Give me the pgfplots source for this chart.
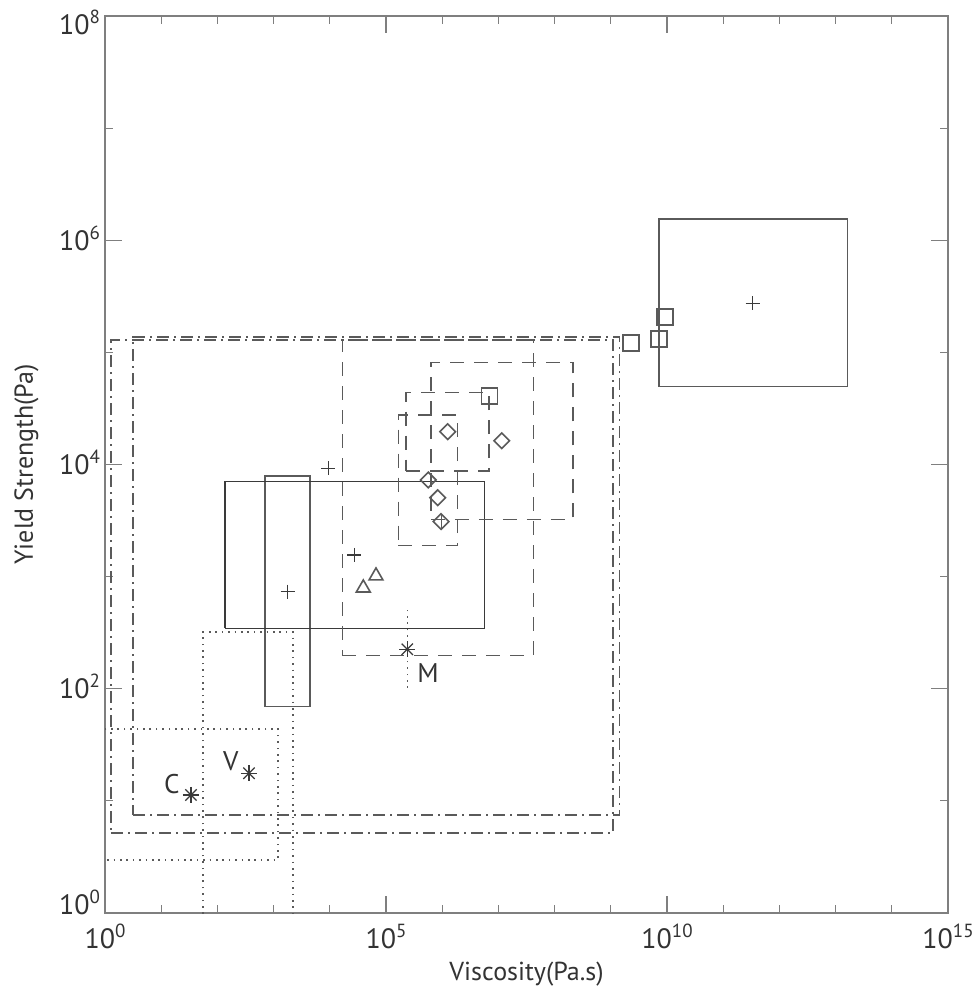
\documentclass[border=0pt]{standalone}
\usepackage{fontspec}
\setmainfont{PT Sans}
\usepackage{pgfplots}
\pgfplotsset{compat=1.18}
\definecolor{ln}{HTML}{5A5A5A}
\definecolor{lnd}{HTML}{3A3A3A}
\definecolor{axc}{HTML}{7F7F7F}
\definecolor{tx}{HTML}{333333}
\newcommand{\sq}[1]{10\raisebox{5.5pt}{\fontsize{9.5}{10}\selectfont #1}}
\begin{document}
\begin{tikzpicture}
\begin{axis}[
 xmode=log, ymode=log,
 scale only axis, width=421.5pt, height=448.5pt,
 xmin=1, xmax=1e15, ymin=1, ymax=1e8,
 xtick={1,1e5,1e10,1e15},
 xticklabels={\sq{0},\sq{5},\sq{10},\sq{15}},
 minor xtick={1e1,1e2,1e3,1e4,1e6,1e7,1e8,1e9,1e11,1e12,1e13,1e14},
 ytick={1,1e2,1e4,1e6,1e8},
 yticklabels={\raisebox{4.2pt}{\sq{0}},\sq{2},\sq{4},\sq{6},\raisebox{-4.3pt}{\sq{8}}},
 minor ytick={1e1,1e3,1e5,1e7},
 tick align=inside, tick pos=both,
 major tick length=8.5pt, minor tick length=4pt,
 tick style={axc, line width=0.6pt},
 axis line style={axc, line width=0.8pt},
 ticklabel style={font=\fontsize{14}{16}\selectfont, text=tx},
 xticklabel style={anchor=north, yshift=-2.2pt},
 yticklabel style={anchor=base east, yshift=-5pt, xshift=1pt},
 xlabel={Viscosity(Pa.s)}, ylabel={Yield Strength(Pa)},
 every axis x label/.style={at={(axis description cs:0.5,-0.068)}, anchor=center, font=\fontsize{13}{15}\selectfont, text=tx},
 every axis y label/.style={at={(axis description cs:-0.093,0.5)}, anchor=center, rotate=90, font=\fontsize{13}{15}\selectfont, text=tx},
 line join=miter,
]
\coordinate (SW) at (rel axis cs:0,0);
\coordinate (NE) at (rel axis cs:1,1);
% dash-dot rectangles
\addplot[ln, line width=0.6pt, dash pattern=on 6pt off 2.5pt on 1pt off 2.5pt] coordinates {(1.28,5.18) (1.096e9,5.18) (1.096e9,1.288e5) (1.28,1.288e5) (1.28,5.18)};
\addplot[ln, line width=0.6pt, dash pattern=on 6pt off 2.5pt on 1pt off 2.5pt] coordinates {(3.15,7.48) (1.445e9,7.48) (1.445e9,1.371e5) (3.15,1.371e5) (3.15,7.48)};
% dotted rectangles
\addplot[ln, line width=0.7pt, dash pattern=on 0.8pt off 2.4pt] coordinates {(0.5,2.97) (1202,2.97) (1202,43.75) (0.5,43.75)};
\addplot[ln, line width=0.7pt, dash pattern=on 0.8pt off 2.4pt] coordinates {(55.5,0.3) (55.5,320.6) (2213,320.6) (2213,0.3)};
% solid rectangles
\addplot[ln, line width=0.7pt] coordinates {(703,69.2) (4446,69.2) (4446,7907) (703,7907) (703,69.2)};
\addplot[lnd, line width=0.7pt] coordinates {(136.5,345) (5.61e6,345) (5.61e6,7031) (136.5,7031) (136.5,345)};
\addplot[ln, line width=0.7pt] coordinates {(7.21e9,49430) (1.614e13,49430) (1.614e13,1.549e6) (7.21e9,1.549e6) (7.21e9,49430)};
% dashed rectangles
\addplot[ln, line width=0.6pt, dash pattern=on 7pt off 5pt] coordinates {(16672,197.2) (4.169e7,197.2) (4.169e7,1.288e5) (16672,1.288e5) (16672,197.2)};
\addplot[ln, line width=0.6pt, dash pattern=on 7pt off 5pt] coordinates {(6.31e5,3243) (2.123e8,3243) (2.123e8,81470) (6.31e5,81470) (6.31e5,3243)};
\addplot[ln, line width=0.6pt, dash pattern=on 7pt off 5pt] coordinates {(2.270e5,8750) (6.808e6,8750) (6.808e6,44060) (2.270e5,44060) (2.270e5,8750)};
\addplot[ln, line width=0.6pt, dash pattern=on 7pt off 5pt] coordinates {(1.656e5,1888) (1.888e6,1888) (1.888e6,27610) (1.656e5,27610) (1.656e5,1888)};
% M error bar
\addplot[ln, line width=0.7pt, dash pattern=on 0.8pt off 2.4pt] coordinates {(2.393e5,101.6) (2.393e5,524.8)};
\addplot[ln, line width=0.5pt] coordinates {(9.528e5,2692) (9.528e5,3548)};
% markers
\addplot[only marks, mark=+, mark size=3.5pt, lnd, mark options={line width=0.6pt}] coordinates {(3.35e11,2.742e5) (9397,9247) (27290,1560) (1782,734.5)};
\addplot[only marks, mark=square, mark size=4pt, ln, mark options={line width=0.8pt}] coordinates {(6.887e6,40830) (9.20e9,2.056e5) (7.21e9,1.309e5) (2.286e9,1.205e5)};
\addplot[only marks, mark=square, mark size=2.75pt, ln, mark options={line width=0.8pt, rotate=45}] coordinates {(1.253e6,19630) (1.146e7,16290) (5.662e5,7278) (8.318e5,5058) (9.528e5,3097)};
\addplot[only marks, mark=triangle, mark size=4pt, ln, mark options={line width=0.8pt}] coordinates {(39450,792.5) (66370,1014)};
\addplot[only marks, mark=+, mark size=4pt, lnd, mark options={line width=0.6pt}] coordinates {(2.393e5,224.9) (33.88,11.30) (364.8,17.62)};
\addplot[only marks, mark=x, mark size=4pt, lnd, mark options={line width=0.6pt}] coordinates {(2.393e5,224.9) (33.88,11.30) (364.8,17.62)};
\node[text=tx, font=\fontsize{13.5}{15}\selectfont] at (axis cs:15.4,14.2) {C};
\node[text=tx, font=\fontsize{13.5}{15}\selectfont] at (axis cs:172.6,22.7) {V};
\node[text=tx, font=\fontsize{13.5}{15}\selectfont] at (axis cs:5.585e5,138.4) {M};
\end{axis}
\pgfresetboundingbox
\useasboundingbox ([shift={(-52.5pt,-38.5pt)}]SW) rectangle ([shift={(13.5pt,8pt)}]NE);
\end{tikzpicture}
\end{document}
